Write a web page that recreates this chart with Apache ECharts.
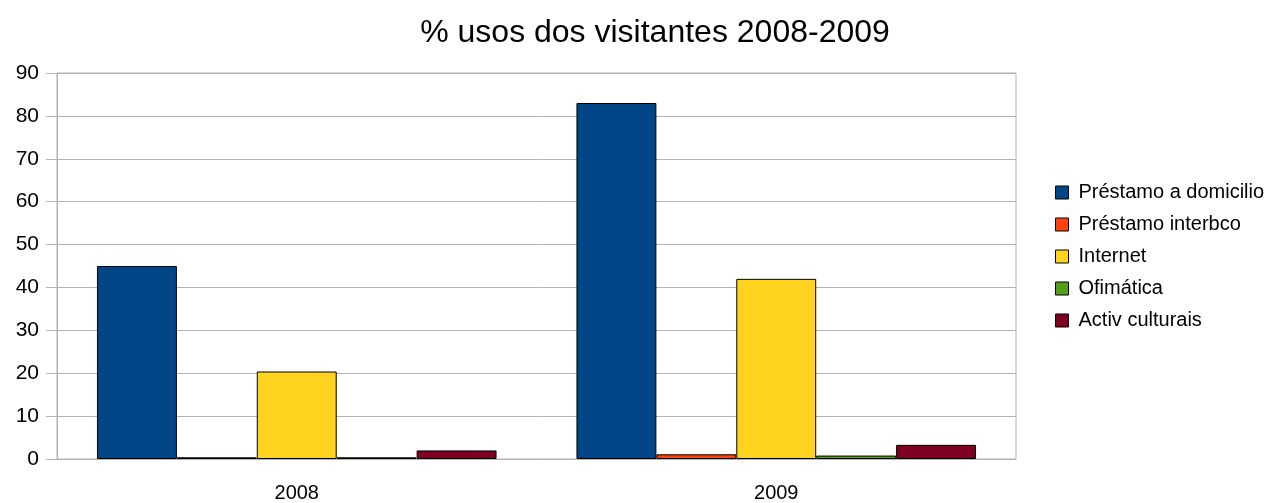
<!DOCTYPE html>
<html><head><meta charset="utf-8">
<script src="https://cdn.jsdelivr.net/npm/echarts@6/dist/echarts.min.js"></script>
<style>html,body{margin:0;padding:0;background:#fff}#c{width:1272px;height:503px}</style>
</head><body><div id="c"></div>
<script>
const categories = ['2008', '2009'];
const seriesNames = ['Préstamo a domicilio', 'Préstamo interbco', 'Internet', 'Ofimática', 'Activ culturais'];
const prestamoDomicilio = [45, 83];
const prestamoInterbco = [0.4, 1.1];
const internet = [20.4, 42];
const ofimatica = [0.4, 0.8];
const activCulturais = [2.0, 3.3];
const yTicks = [0, 10, 20, 30, 40, 50, 60, 70, 80, 90];
const colors = ['#004586', '#ff420e', '#ffd320', '#579d1c', '#7e0021'];
const values = [prestamoDomicilio, prestamoInterbco, internet, ofimatica, activCulturais];

const font = 'Liberation Sans, Arial, sans-serif';
const chart = echarts.init(document.getElementById('c'), null, {renderer: 'canvas'});
chart.setOption({
  animation: false,
  backgroundColor: '#fff',
  title: {
    text: '% usos dos visitantes 2008-2009',
    left: 650, top: 12, textAlign: 'center',
    textStyle: {fontFamily: font, fontSize: 32, fontWeight: 'normal', color: '#000'}
  },
  legend: {
    orient: 'vertical', left: 1055, top: 182, padding: 0,
    itemWidth: 13, itemHeight: 13, itemGap: 11,
    icon: 'rect',
    textStyle: {fontFamily: font, fontSize: 20, color: '#000', padding: [0, 0, 0, 5], lineHeight: 21},
    itemStyle: {borderColor: '#000', borderWidth: 1}
  },
  grid: {left: 57, right: 256, top: 73, bottom: 42, show: true, borderColor: '#b3b3b3', borderWidth: 1},
  xAxis: {
    type: 'category', data: categories,
    axisLine: {lineStyle: {color: '#b3b3b3'}},
    axisTick: {length: 10, lineStyle: {color: '#b3b3b3'}},
    axisLabel: {fontFamily: font, fontSize: 20, color: '#000', margin: 24}
  },
  yAxis: {
    type: 'value', min: yTicks[0], max: yTicks[yTicks.length - 1], interval: 10,
    axisLine: {show: true, lineStyle: {color: '#b3b3b3'}},
    axisTick: {show: true, length: 11, lineStyle: {color: '#b3b3b3'}},
    splitLine: {lineStyle: {color: '#b3b3b3'}},
    axisLabel: {fontFamily: font, fontSize: 21, color: '#000', margin: 18}
  },
  series: seriesNames.map((n, i) => ({
    name: n, type: 'bar', data: values[i],
    barGap: '0%', barCategoryGap: '16.67%',
    itemStyle: {color: colors[i], borderColor: '#000', borderWidth: 1}
  }))
});
</script></body></html>
